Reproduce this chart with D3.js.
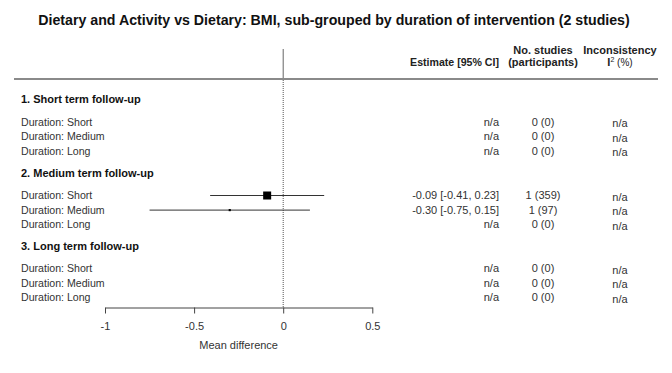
<!DOCTYPE html>
<html>
<head>
<meta charset="utf-8">
<script src="https://cdn.jsdelivr.net/npm/d3@7"></script>
<style>
  html, body { margin: 0; padding: 0; background: #fff; }
  svg { display: block; font-family: "Liberation Sans", Arial, sans-serif; }
</style>
</head>
<body>
<svg id="chart" width="672" height="373"></svg>
<script>
// ---- data ----
const title = "Dietary and Activity vs Dietary: BMI, sub-grouped by duration of intervention (2 studies)";
const groups = ["1. Short term follow-up", "2. Medium term follow-up", "3. Long term follow-up"];
const subgroups = ["Duration: Short", "Duration: Medium", "Duration: Long"];
// per group, per subgroup (null = n/a)
const estimates = [[null, null, null], [-0.09, -0.30, null], [null, null, null]];
const ciLow     = [[null, null, null], [-0.41, -0.75, null], [null, null, null]];
const ciHigh    = [[null, null, null], [0.23, 0.15, null],   [null, null, null]];
const nStudies  = [[0, 0, 0], [1, 1, 0], [0, 0, 0]];
const nParticipants = [[0, 0, 0], [359, 97, 0], [0, 0, 0]];
const i2 = [[null, null, null], [null, null, null], [null, null, null]];
const tickValues = [-1, -0.5, 0, 0.5];
const axisTitle = "Mean difference";

// ---- layout ----
const svg = d3.select("#chart");
const x = d3.scaleLinear().domain([-1, 0.5]).range([105, 372.3]);
const size = d3.scaleLinear().domain([0, 359]).range([0, 8]);
const groupTop = [99, 172.5, 245.5];
const rowY = (g, s) => groupTop[g] + 22.5 + s * 14.6;
const axisY = 307.5;
const textCol = "#333";

// title
svg.append("text")
  .attr("x", 334).attr("y", 25)
  .attr("text-anchor", "middle")
  .attr("font-size", 14.2).attr("font-weight", "bold").attr("fill", "#111")
  .text(title);

// header
const hdr = svg.append("g").attr("font-size", 11).attr("fill", "#222");
hdr.append("text").attr("x", 499).attr("y", 66).attr("text-anchor", "end")
  .attr("font-weight", "bold").attr("font-size", 10.6).text("Estimate [95% CI]");
hdr.append("text").attr("x", 543).attr("y", 54).attr("text-anchor", "middle")
  .attr("font-weight", "bold").text("No. studies");
hdr.append("text").attr("x", 543).attr("y", 66).attr("text-anchor", "middle")
  .attr("font-weight", "bold").text("(participants)");
hdr.append("text").attr("x", 620).attr("y", 54).attr("text-anchor", "middle")
  .attr("font-weight", "bold").text("Inconsistency");
const i2t = hdr.append("text").attr("x", 620).attr("y", 66).attr("text-anchor", "middle");
i2t.append("tspan").attr("font-weight", "bold").text("I");
i2t.append("tspan").attr("font-size", 7).attr("dy", -4).text("2");
i2t.append("tspan").attr("font-size", 10).attr("dy", 4).text(" (%)");

// header rule
svg.append("line").attr("x1", 14).attr("x2", 658).attr("y1", 79).attr("y2", 79)
  .attr("stroke", "#8a8a8a").attr("stroke-width", 2);

// null line
svg.append("line").attr("x1", x(0)).attr("x2", x(0)).attr("y1", 49).attr("y2", 78)
  .attr("stroke", "#666").attr("stroke-width", 1);
svg.append("line").attr("x1", x(0)).attr("x2", x(0)).attr("y1", 80).attr("y2", axisY)
  .attr("stroke", "#555").attr("stroke-width", 1).attr("stroke-dasharray", "1,1");

// rows
const rows = [];
groups.forEach((gName, g) => {
  subgroups.forEach((sName, s) => {
    rows.push({g, s, name: sName, est: estimates[g][s], lo: ciLow[g][s], hi: ciHigh[g][s],
      k: nStudies[g][s], n: nParticipants[g][s], i2: i2[g][s], y: rowY(g, s)});
  });
});

svg.append("g").selectAll("text").data(groups).join("text")
  .attr("x", 21).attr("y", (d, i) => groupTop[i] + 4)
  .attr("font-size", 11).attr("font-weight", "bold").attr("fill", "#111")
  .text(d => d);

const rg = svg.append("g").attr("font-size", 11).attr("fill", textCol);
rg.selectAll("text.lab").data(rows).join("text").attr("class", "lab")
  .attr("x", 21).attr("y", d => d.y + 4).attr("font-size", 10.6).text(d => d.name);
rg.selectAll("text.est").data(rows).join("text").attr("class", "est")
  .attr("x", 499).attr("y", d => d.y + 4).attr("text-anchor", "end")
  .text(d => d.est == null ? "n/a" : `${d.est.toFixed(2)} [${d.lo.toFixed(2)}, ${d.hi.toFixed(2)}]`);
rg.selectAll("text.cnt").data(rows).join("text").attr("class", "cnt")
  .attr("x", 543).attr("y", d => d.y + 4).attr("text-anchor", "middle")
  .text(d => `${d.k} (${d.n})`);
rg.selectAll("text.i2").data(rows).join("text").attr("class", "i2")
  .attr("x", 620).attr("y", d => d.y + 5.5).attr("text-anchor", "middle")
  .text(d => d.i2 == null ? "n/a" : d.i2);

// CIs and markers
const est = rows.filter(d => d.est != null);
svg.append("g").selectAll("line").data(est).join("line")
  .attr("x1", d => x(d.lo)).attr("x2", d => x(d.hi))
  .attr("y1", d => d.y + 0.5).attr("y2", d => d.y + 0.5)
  .attr("stroke", "#333").attr("stroke-width", 1);
svg.append("g").selectAll("rect").data(est).join("rect")
  .attr("x", d => x(d.est) - size(d.n) / 2)
  .attr("y", d => d.y + 0.5 - size(d.n) / 2)
  .attr("width", d => size(d.n)).attr("height", d => size(d.n))
  .attr("fill", "#000");

// axis
const axis = d3.axisBottom(x).tickValues(tickValues).tickSize(6).tickSizeOuter(0)
  .tickPadding(9).tickFormat(d => String(d));
const ag = svg.append("g").attr("transform", `translate(0,${axisY})`).call(axis);
ag.select(".domain").attr("stroke", "#444");
ag.selectAll(".tick line").attr("stroke", "#444");
ag.selectAll(".tick text").attr("font-size", 11).attr("fill", textCol)
  .attr("font-family", "Liberation Sans, Arial, sans-serif");

svg.append("text").attr("x", (x(-1) + x(0.5)) / 2).attr("y", 349)
  .attr("text-anchor", "middle").attr("font-size", 11).attr("fill", textCol)
  .text(axisTitle);
</script>
</body>
</html>
